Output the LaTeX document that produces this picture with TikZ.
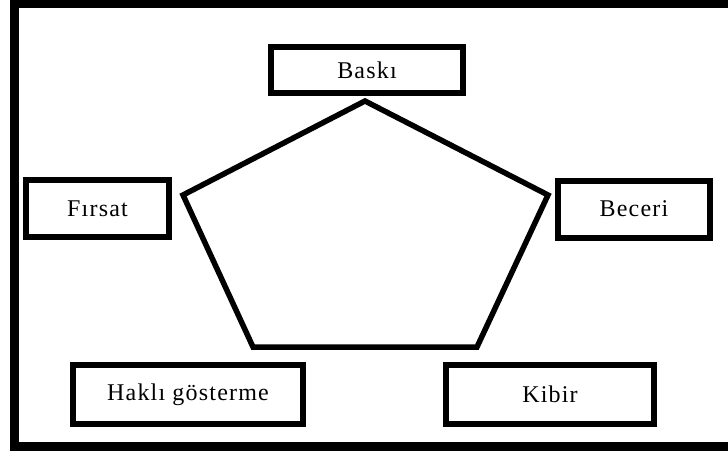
\documentclass[tikz,border=0pt]{standalone}
\usepackage{fontspec}
\setmainfont{Liberation Serif}[LetterSpace=5]
\usepackage{tikz}

\tikzset{
  factor/.style={draw, line width=6pt, inner sep=0pt, minimum height=57pt, font=\fontsize{24}{28}\selectfont},
  frame/.style={line width=9pt},
  pentagon/.style={line width=5.5pt, line join=miter}
}

\begin{document}
\begin{tikzpicture}[x=1pt,y=-1pt]
\useasboundingbox (0,0) rectangle (728,452);
\clip (0,0) rectangle (728,452);

% outer frame, runs off the right side
\draw [frame] (760,4) -- (14.5,4) -- (14.5,446) -- (760,446);

% the five factors
\node [factor, minimum width=192pt, minimum height=46pt] (baski) at (367,70) {Baskı};
\node [factor, minimum width=143pt] (firsat) at (97.5,208.5) {Fırsat};
\node [factor, minimum width=152pt] (beceri) at (634,209) {Beceri};
\node [factor, minimum width=230pt, minimum height=59pt] (hakli) at (188,394.5) {Haklı gösterme};
\node [factor, minimum width=208pt, minimum height=59pt] (kibir) at (550,394.5) {Kibir};

% pentagon in the middle
\draw [pentagon] (365,101) -- (548,195) -- (477,347) -- (253,347) -- (183,195) -- cycle;

\end{tikzpicture}
\end{document}
